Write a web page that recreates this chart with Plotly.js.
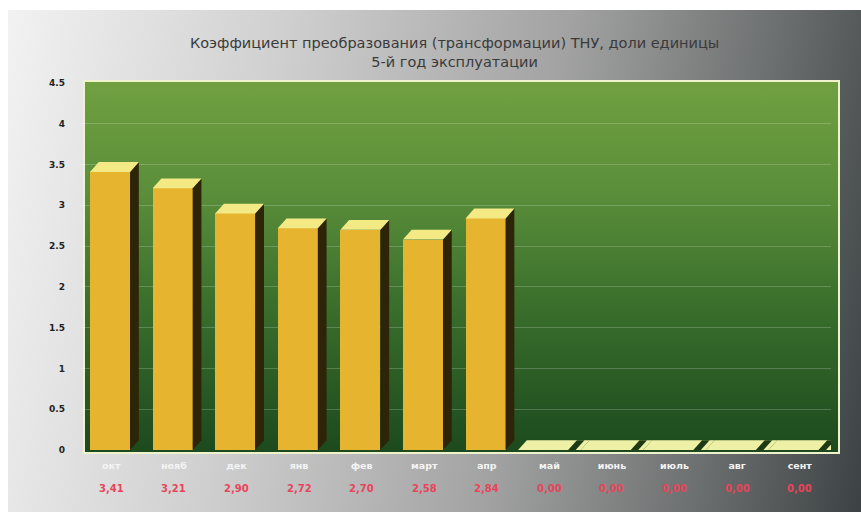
<!DOCTYPE html>
<html><head><meta charset="utf-8">
<script src="https://cdn.plot.ly/plotly-3.0.1.min.js"></script>
<style>
html,body{margin:0;padding:0;background:#fff;}
#wrap{position:relative;width:861px;height:518px;overflow:hidden;}
#panel{position:absolute;left:8px;top:10px;width:853px;height:502px;
 background:linear-gradient(100deg,#f2f2f2 0%,#cfcfcf 30%,#a2a2a2 60%,#6d7070 82%,#3c4244 100%);}
#green{position:absolute;left:83px;top:80px;width:753px;height:370px;
 border:2px solid #eef3cc;
 background:linear-gradient(180deg,#70a040 0%,#5a8e3a 30%,#3a6f2c 60%,#1c4a1e 100%);}
#chart{position:absolute;left:0;top:0;width:861px;height:518px;}
</style></head>
<body><div id="wrap"><div id="panel"></div><div id="green"></div><div id="chart"></div></div>
<script>
const months = ['окт','нояб','дек','янв','фев','март','апр','май','июнь','июль','авг','сент'];
const values = [3.41, 3.21, 2.90, 2.72, 2.70, 2.58, 2.84, 0, 0, 0, 0, 0];
const yTicks = [0,0.5,1,1.5,2,2.5,3,3.5,4,4.5];

const idx = months.map((m,i)=>i);
const W = 0.64, OFF = -0.34, DX = 0.14, DY = 0.12;

const floors = [], stripes = [], faces = [];
values.forEach((v,i)=>{
  const x0 = i + OFF, x1 = x0 + W;
  if (v > 0) {
    faces.push({type:'path', xref:'x', yref:'y', layer:'above',
      path:`M${x1},${v} L${x1+DX},${v+DY} L${x1+DX},${DY} L${x1},0 Z`,
      fillcolor:'#2e2408', line:{width:0}});
    faces.push({type:'path', xref:'x', yref:'y', layer:'above',
      path:`M${x0},${v} L${x1},${v} L${x1+DX},${v+DY} L${x0+DX},${v+DY} Z`,
      fillcolor:'#f3ea86', line:{width:0}});
  } else {
    const a = i - 0.5, b = i + 0.5;
    floors.push({type:'path', xref:'x', yref:'y', layer:'above',
      path:`M${a},0 L${b},0 L${b+DX},${DY} L${a+DX},${DY} Z`,
      fillcolor:'#eef0a6', line:{width:0}});
    stripes.push({type:'path', xref:'x', yref:'y', layer:'above',
      path:`M${x1},0 L${x1+0.12},0 L${x1+0.12+DX},${DY} L${x1+DX},${DY} Z`,
      fillcolor:'#1d3a14', line:{width:0}});
  }
});
const shapes = floors.concat(stripes, faces);

const annotations = values.map((v,i)=>({
  x:i, y:-0.125, xref:'x', yref:'paper', showarrow:false,
  text: v.toFixed(2).replace('.',','),
  font:{family:'DejaVu Sans, Arial', size:10, color:'#e8445a', weight:'bold'}
}));

const trace = {
  type:'bar', x: idx, y: values, width: W, offset: OFF,
  marker:{color:'#e6b42e', line:{width:0}},
  hoverinfo:'skip'
};

const layout = {
  width:861, height:518,
  margin:{l:80, r:30, t:83, b:68},
  paper_bgcolor:'rgba(0,0,0,0)', plot_bgcolor:'rgba(0,0,0,0)',
  title:{text:'Коэффициент преобразования (трансформации) ТНУ, доли единицы<br>5-й год эксплуатации',
    x:0.528, xanchor:'center', y:0.908, yanchor:'middle',
    font:{family:'DejaVu Sans, Arial', size:14.5, color:'#3a3a3a'}},
  xaxis:{range:[-0.5,11.5], tickvals: idx, ticktext: months, showgrid:false, zeroline:false,
    showline:false, ticks:'', ticklabelstandoff:8,
    tickfont:{family:'DejaVu Sans, Arial', size:9.5, color:'#f4f4f4', weight:'bold'}},
  yaxis:{range:[0,4.5], tickvals: yTicks, ticktext: yTicks.map(String), showgrid:true,
    gridcolor:'rgba(255,255,255,0.2)', gridwidth:1, zeroline:false, showline:false, ticks:'',
    ticklabelstandoff:14,
    tickfont:{family:'DejaVu Sans, Arial', size:9, color:'#222', weight:'bold'}},
  shapes: shapes,
  annotations: annotations,
  showlegend:false, bargap:0
};
Plotly.newPlot('chart',[trace],layout,{displayModeBar:false, staticPlot:true});
</script></body></html>
